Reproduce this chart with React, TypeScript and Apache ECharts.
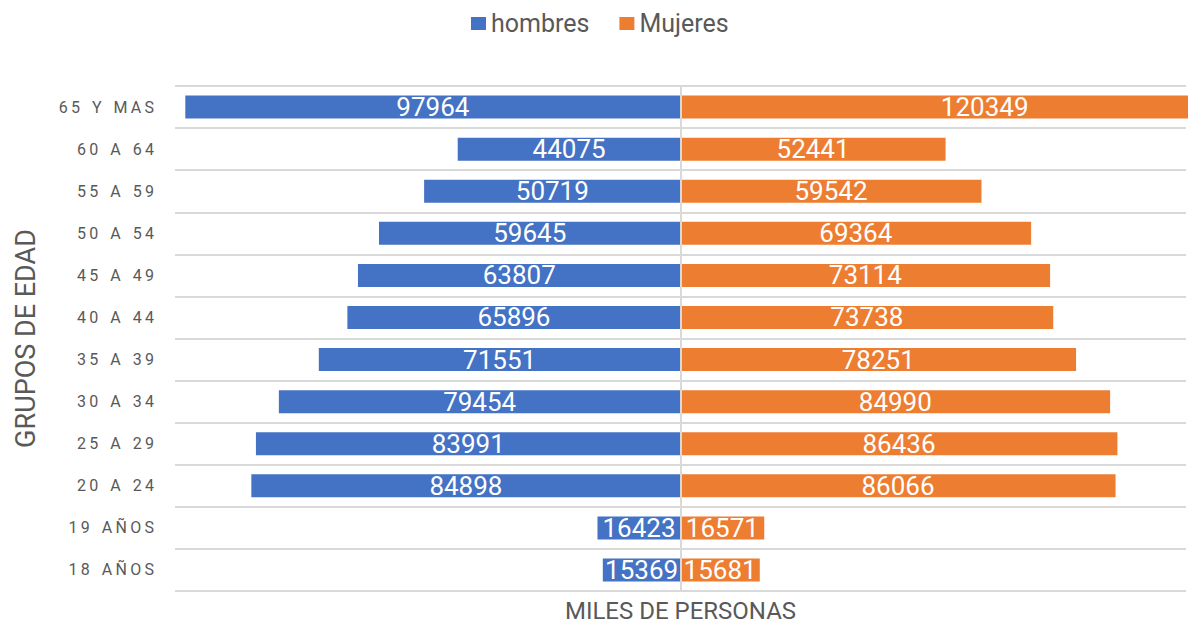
import React, { useEffect, useRef } from "react";
import * as echarts from "echarts";

const categories = [
  "18 AÑOS",
  "19 AÑOS",
  "20 A 24",
  "25 A 29",
  "30 A 34",
  "35 A 39",
  "40 A 44",
  "45 A 49",
  "50 A 54",
  "55 A 59",
  "60 A 64",
  "65 Y MAS",
];
const hombres = [15369, 16423, 84898, 83991, 79454, 71551, 65896, 63807, 59645, 50719, 44075, 97964];
const mujeres = [15681, 16571, 86066, 86436, 84990, 78251, 73738, 73114, 69364, 59542, 52441, 120349];
const seriesNames = ["hombres", "Mujeres"];
const xAxisName = "MILES DE PERSONAS";
const yAxisName = "GRUPOS DE EDAD";

const FONT = "Roboto, 'Open Sans', sans-serif";

const spaced = (s: string) =>
  s
    .split("")
    .map((c) => (c === " " ? "\u2004" : c))
    .join("\u2009");

export default function App() {
  const ref = useRef<HTMLDivElement>(null);
  useEffect(() => {
    if (!ref.current) return;
    const chart = echarts.init(ref.current, null, { renderer: "svg" });
    chart.setOption({
      animation: false,
      textStyle: { fontFamily: FONT },
      legend: {
        left: 466,
        top: 6,
        itemWidth: 15,
        itemHeight: 13,
        itemGap: 30,
        icon: "rect",
        textStyle: { fontSize: 25, color: "#595959", fontFamily: FONT },
        data: seriesNames,
      },
      grid: { left: 175, right: 2, top: 86, bottom: 35 },
      xAxis: {
        type: "value",
        min: -100000,
        max: 100000,
        axisLabel: { show: false },
        axisTick: { show: false },
        axisLine: { show: false },
        splitLine: { show: false },
        name: xAxisName,
        nameLocation: "middle",
        nameGap: 8,
        nameTextStyle: { fontSize: 24, color: "#595959", fontFamily: FONT, verticalAlign: "top" },
      },
      yAxis: {
        type: "category",
        data: categories,
        axisLine: { show: false },
        axisTick: { show: false },
        axisLabel: {
          margin: 21,
          fontSize: 16,
          color: "#595959",
          fontFamily: FONT,
          formatter: (v: string) => spaced(v),
        },
        splitLine: { show: true, lineStyle: { color: "#D9D9D9", width: 2 } },
        name: yAxisName,
        nameLocation: "middle",
        nameGap: 136,
        nameRotate: 90,
        nameTextStyle: { fontSize: 27, color: "#595959", fontFamily: FONT },
      },
      series: [
        {
          name: seriesNames[0],
          type: "bar",
          data: hombres.map((v) => -v),
          barWidth: 23,
          barGap: "-100%",
          clip: false,
          itemStyle: { color: "#4472C4" },
          label: {
            show: true,
            position: "inside",
            color: "#FFFFFF",
            fontSize: 26,
            fontFamily: FONT,
            formatter: (p: any) => String(Math.abs(p.value)),
          },
        },
        {
          name: seriesNames[1],
          type: "bar",
          data: mujeres,
          barWidth: 23,
          barGap: "-100%",
          clip: false,
          itemStyle: { color: "#ED7D31" },
          label: {
            show: true,
            position: "inside",
            color: "#FFFFFF",
            fontSize: 26,
            fontFamily: FONT,
            formatter: (p: any) => String(p.value),
          },
          markLine: {
            silent: true,
            symbol: "none",
            label: { show: false },
            lineStyle: { color: "#D9D9D9", width: 2, type: "solid" },
            data: [{ xAxis: 0 }],
          },
        },
      ],
    });
    return () => chart.dispose();
  }, []);
  return (
    <div
      style={{ position: "absolute", left: 0, top: 0, width: 1188, height: 628, overflow: "hidden", background: "#fff" }}
    >
      <div ref={ref} style={{ width: 1188, height: 628 }} />
    </div>
  );
}
